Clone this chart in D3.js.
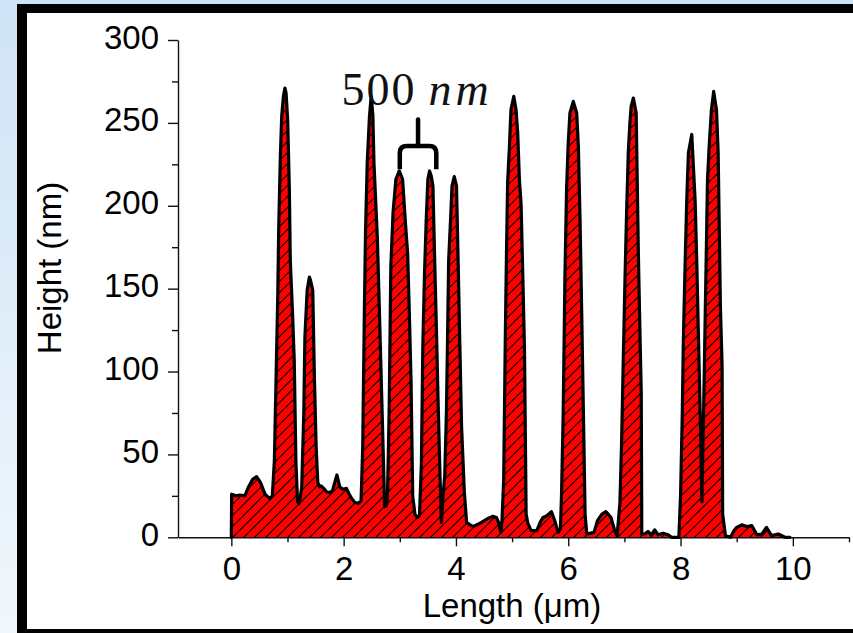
<!DOCTYPE html>
<html>
<head>
<meta charset="utf-8">
<script src="https://cdn.jsdelivr.net/npm/d3@7/dist/d3.min.js"></script>
<style>
  html, body { margin: 0; padding: 0; overflow: hidden; }
  body { width: 853px; height: 633px; }
</style>
</head>
<body>
<svg id="chart" width="853" height="633"></svg>
<script>
// ---------------- data ----------------
const lengthUm = [
  0.00, 0.005, 0.08, 0.15, 0.24, 0.30, 0.38, 0.45, 0.52, 0.60, 0.68, 0.73,
  0.766, 0.796, 0.826, 0.844, 0.873, 0.897, 0.927, 0.955, 0.975, 1.003, 1.033, 1.05, 1.09, 1.12, 1.15, 1.18, 1.21,
  1.253, 1.29, 1.31, 1.35, 1.39, 1.41, 1.45, 1.48, 1.51, 1.54, 1.57, 1.60, 1.66, 1.69, 1.75, 1.80, 1.84, 1.88, 1.93, 1.98, 2.05, 2.10, 2.14, 2.20, 2.26, 2.31,
  2.34, 2.37, 2.39, 2.42, 2.46, 2.49, 2.52, 2.54, 2.60, 2.63, 2.67, 2.71, 2.73, 2.76,
  2.78, 2.81, 2.84, 2.88, 2.93, 2.99, 3.05, 3.10, 3.14, 3.17, 3.20, 3.23, 3.27, 3.31, 3.35,
  3.385, 3.41, 3.44, 3.47, 3.50, 3.53, 3.56, 3.59, 3.62, 3.65, 3.68, 3.71, 3.74,
  3.77, 3.80, 3.83, 3.85, 3.87, 3.91, 3.93, 3.97, 4.01, 4.04, 4.07, 4.10, 4.15, 4.19, 4.25, 4.31, 4.40, 4.49, 4.58, 4.66, 4.72, 4.76, 4.80,
  4.82, 4.85, 4.88, 4.90, 4.92, 4.95, 4.98, 5.03, 5.07, 5.10, 5.13, 5.16, 5.19, 5.22, 5.25, 5.28, 5.34, 5.44, 5.50, 5.55, 5.62, 5.70, 5.76, 5.82, 5.86,
  5.88, 5.91, 5.94, 5.97, 6.00, 6.03, 6.09, 6.15, 6.18, 6.21, 6.24, 6.27, 6.30, 6.33, 6.40, 6.46, 6.52, 6.60, 6.67, 6.76, 6.82, 6.87,
  6.92, 6.95, 6.98, 7.01, 7.04, 7.07, 7.10, 7.12, 7.16, 7.21, 7.23, 7.25, 7.27, 7.30, 7.31, 7.36, 7.42, 7.48, 7.54, 7.60, 7.69, 7.78, 7.84, 7.96, 7.97,
  8.00, 8.03, 8.05, 8.08, 8.11, 8.14, 8.20, 8.26, 8.29, 8.32, 8.35, 8.38,
  8.41, 8.44, 8.46, 8.48, 8.51, 8.55, 8.59, 8.64, 8.67, 8.69, 8.71, 8.74, 8.75, 8.80, 8.89,
  8.95, 9.00, 9.09, 9.18, 9.27, 9.36, 9.45, 9.53, 9.62, 9.74, 9.86, 9.95
];
const heightNm = [
  0, 26, 25, 25.5, 25, 30, 35, 36.6, 33, 26, 23.5, 25,
  46, 95, 145, 187, 230, 254, 266, 271, 268, 252, 210, 167, 135, 107, 45, 21.5, 20.5,
  30, 75, 121, 149, 157, 155, 149, 95, 55, 33, 30.5, 31, 29, 27.5, 27, 28, 33, 37.6, 30.5, 29, 29.5, 26, 23.5, 21, 20.5, 22,
  55, 139, 185, 226, 254, 266, 255, 226, 181, 145, 95, 45, 18.5, 19,
  25, 75, 163, 196, 216, 221, 216, 190, 171, 135, 95, 25, 14, 12, 13,
  45, 115, 159, 191, 216, 221, 218, 212, 169, 129, 85, 45, 9,
  25, 37, 75, 119, 167, 196, 212, 217.6, 212, 165, 115, 67, 27, 9, 7.5, 6.6, 8, 9.7, 11.5, 12.7, 12, 9, 3,
  10, 34.6, 123, 171, 214, 234, 258, 266, 258, 244, 216, 201, 159, 115, 14, 8.5, 4, 4, 9, 12, 13, 15.5, 10, 3, 5,
  25, 75, 155, 210, 238, 256, 263, 256, 236, 192, 135, 75, 14, 2, 2.5, 3, 10, 14, 15.5, 12, 5, 1,
  20.7, 57, 107, 155, 197, 233, 251, 260, 265, 256, 212, 169, 135, 87, 2, 2, 3.5, 1.5, 4.5, 1.5, 2.5, 1.5, 0, 0, 0,
  25, 73, 119, 163, 203, 232, 243, 203, 165, 119, 75, 21.5,
  75, 135, 175, 216, 236, 258, 269, 258, 232, 185, 139, 103, 14, 1, 0,
  4, 6, 7.5, 6.5, 7, 1.5, 2, 6, 1, 2, 0, 0
];
const xMajorTicks = [0, 2, 4, 6, 8, 10];
const xMinorTicks = [1, 3, 5, 7, 9, 11];
const yMajorTicks = [0, 50, 100, 150, 200, 250, 300];
const yMinorTicks = [25, 75, 125, 175, 225, 275];
const xTitle = "Length (\u03bcm)";
const yTitle = "Height (nm)";
const annotationNumber = "500";
const annotationUnit = "nm";
const braceSpan = [3.0, 3.65];      // μm
const braceLevels = [222, 236, 252]; // nm: leg ends, bar, stem top

// ---------------- drawing ----------------
const SANS = "'Liberation Sans', Arial, sans-serif";
const SERIF = "'Liberation Serif', 'DejaVu Serif', serif";
const svg = d3.select("#chart");
const W = 853, H = 633;

const defs = svg.append("defs");
const bgGrad = defs.append("linearGradient").attr("id", "bg").attr("x1", 0).attr("y1", 0).attr("x2", 0).attr("y2", 1);
bgGrad.append("stop").attr("offset", "0%").attr("stop-color", "#cfe3f6");
bgGrad.append("stop").attr("offset", "100%").attr("stop-color", "#f1f7fc");

const hatch = defs.append("pattern").attr("id", "hatch")
  .attr("patternUnits", "userSpaceOnUse").attr("width", 11).attr("height", 11);
hatch.append("path").attr("d", "M-1,1 L1,-1 M0,11 L11,0 M10,12 L12,10")
  .attr("stroke", "#000").attr("stroke-width", 1.1);

svg.append("rect").attr("width", W).attr("height", H).attr("fill", "url(#bg)");
svg.append("rect").attr("x", 17).attr("y", 4).attr("width", 900).attr("height", 700).attr("fill", "#000");
svg.append("rect").attr("x", 27).attr("y", 13).attr("width", 900).attr("height", 616).attr("fill", "#fff");

const x = d3.scaleLinear().domain([-0.95, 11]).range([178, 849]);
const y = d3.scaleLinear().domain([0, 300]).range([537.3, 40]);

const pts = lengthUm.map((v, i) => [v, heightNm[i]]);

const area = d3.area().x(d => x(d[0])).y0(y(0)).y1(d => y(d[1]));
const line = d3.line().x(d => x(d[0])).y(d => y(d[1]));

svg.append("path").datum(pts).attr("d", area).attr("fill", "#ff0000");
svg.append("path").datum(pts).attr("d", area).attr("fill", "url(#hatch)");

// axes
const axisColor = "#111";
function styleAxis(g) {
  g.selectAll("path.domain").attr("stroke", axisColor).attr("stroke-width", 1.4);
  g.selectAll(".tick line").attr("stroke", axisColor).attr("stroke-width", 1.4);
  g.selectAll(".tick text").attr("fill", "#000").style("font-size", "33px").style("font-family", SANS);
}

const gx = svg.append("g").attr("transform", `translate(0,${y(0)})`)
  .call(d3.axisBottom(x).tickValues(xMajorTicks).tickSize(9).tickSizeOuter(0).tickPadding(10).tickFormat(d3.format("d")));
styleAxis(gx);
gx.selectAll(".tick text").attr("dy", null).attr("y", 43);
const gxm = svg.append("g").attr("transform", `translate(0,${y(0)})`)
  .call(d3.axisBottom(x).tickValues(xMinorTicks).tickSize(5).tickSizeOuter(0).tickFormat(""));
styleAxis(gxm);
gxm.select("path.domain").remove();

const gy = svg.append("g").attr("transform", `translate(${x(-0.95)},0)`)
  .call(d3.axisLeft(y).tickValues(yMajorTicks).tickSize(10).tickSizeOuter(0).tickPadding(9).tickFormat(d3.format("d")));
styleAxis(gy);
gy.selectAll(".tick text").attr("dy", null).attr("y", 8);
const gym = svg.append("g").attr("transform", `translate(${x(-0.95)},0)`)
  .call(d3.axisLeft(y).tickValues(yMinorTicks).tickSize(6).tickSizeOuter(0).tickFormat(""));
styleAxis(gym);
gym.select("path.domain").remove();

// profile outline
svg.append("path").datum(pts).attr("d", line)
  .attr("fill", "none").attr("stroke", "#000").attr("stroke-width", 3.2)
  .attr("stroke-linejoin", "round").attr("stroke-linecap", "round");

// axis titles
svg.append("text").attr("x", 512).attr("y", 617).attr("text-anchor", "middle")
  .style("font-size", "33px").style("font-family", SANS).attr("fill", "#000").text(xTitle);
svg.append("text").attr("transform", "translate(61,268) rotate(-90)").attr("text-anchor", "middle")
  .style("font-size", "33px").style("font-family", SANS).attr("fill", "#000").text(yTitle);

// annotation
const ann = svg.append("text").attr("x", x(1.96)).attr("y", y(261))
  .style("font-family", SERIF).style("font-size", "46px").attr("fill", "#111");
ann.append("tspan").style("letter-spacing", "2px").text(annotationNumber);
ann.append("tspan").attr("dx", 12).style("font-style", "italic").style("letter-spacing", "4px").text(annotationUnit);

const bx0 = x(braceSpan[0]), bx1 = x(braceSpan[1]), bxm = (bx0 + bx1) / 2;
const byEnd = y(braceLevels[0]), byBar = y(braceLevels[1]), byTop = y(braceLevels[2]);
const r = 7;
const bracePath = d3.path();
bracePath.moveTo(bx0, byEnd);
bracePath.lineTo(bx0, byBar + r);
bracePath.quadraticCurveTo(bx0, byBar, bx0 + r, byBar);
bracePath.lineTo(bx1 - r, byBar);
bracePath.quadraticCurveTo(bx1, byBar, bx1, byBar + r);
bracePath.lineTo(bx1, byEnd);
svg.append("path").attr("d", bracePath.toString()).attr("fill", "none")
  .attr("stroke", "#000").attr("stroke-width", 4.5).attr("stroke-linejoin", "round");
const stem = d3.path();
stem.moveTo(bxm, byBar);
stem.lineTo(bxm, byTop);
svg.append("path").attr("d", stem.toString()).attr("stroke", "#000").attr("stroke-width", 4.5).attr("stroke-linecap", "round");
</script>
</body>
</html>
